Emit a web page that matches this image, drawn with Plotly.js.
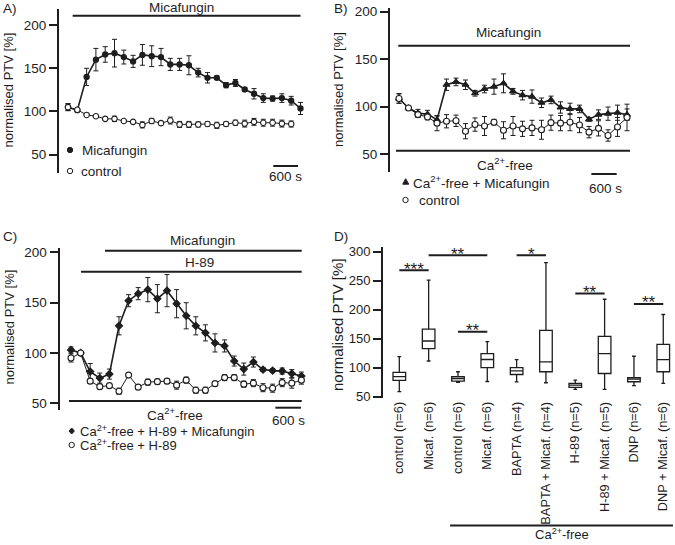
<!DOCTYPE html>
<html><head><meta charset="utf-8">
<script src="https://cdn.plot.ly/plotly-3.0.1.min.js"></script>
<style>html,body{margin:0;padding:0;background:#fff}</style>
</head><body><div id="chart" style="width:675px;height:545px"></div>
<script>
// ---------- DATA ----------
// time points (s)
const timeA = [0,225,450,675,900,1125,1350,1575,1800,2025,2250,2475,2700,2925,3150,3375,3600,3825,4050,4275,4500,4725,4950,5175,5400,5625];
const timeB = [0,225,450,675,900,1125,1350,1575,1800,2025,2250,2475,2700,2925,3150,3375,3600,3825,4050,4275,4500,4725,4950,5175,5400];
const timeC = [0,225,450,675,900,1125,1350,1575,1800,2025,2250,2475,2700,2925,3150,3375,3600,3825,4050,4275,4500,4725,4950,5175,5400];

// Panel A
const micafA    = [105,101.5,140,160,166,167.5,163,158,165.5,164,163,154.5,154.5,153.5,145,139,139,130.5,133,125.5,120.5,115.5,115,115.5,112.5,103.5];
const micafAErr = [4,2,10,13,9,16,8,7,12,12,10,7,7,11,5,6,2,3,4,2,6,5,3,5,5,7];
const controlA    = [105,102,96,94.5,91.5,91.5,89,88,84.5,89,86.5,89.5,85,85,85,85.5,84,85.5,87,86,88,87,87,86,85.5];
const controlAErr = [4,1.5,1.5,1.5,2,3,1.5,1.5,3.5,3,2,4,3.5,3.5,3,2.5,3.5,2.5,3,4,4,4,4,4,3.5];

// Panel B
const caMicafB    = [108.5,98.5,93,92,86,123,126,123,114,118.5,121,124.5,116,112,110.5,104,107,99,97.5,97.5,86.5,91.5,92.5,93.5,91.5];
const caMicafBErr = [5,2,4,4,4,6,4,5,3,4,8,10,3,5,7,5,4,6,6,4,2,5,7,8,6];
const controlB    = [108.5,98.5,91.5,89,82.5,84.5,85,74,81,79.5,83.5,75,79.5,76.5,77.5,75.5,83,82.5,83.5,80.5,73,77,69.5,78.5,88.5];
const controlBErr = [5,2,3,3,8,7,6,8,7,10,3,9,10,8,8,10,8,8,9,8,6,8,6,10,14];

// Panel C
const caH89MicafC    = [103,100,81.5,75,79,127,152,159,163,154,162,149,137,127,120,110,107,92,84,91,83.5,82.5,82,79.5,77];
const caH89MicafCErr = [3,2,8,5,5,9,6,6,12,14,16,14,13,9,8,9,6,5,6,5,2,2,3,4,4];
const caH89C    = [95,100,72,66.5,67.5,62,78,66,71,71.5,72,68,73,63,63,69.5,75.5,75.5,69,70,65.5,65,70.5,70,73];
const caH89CErr = [4,1.5,2,2,1.5,3,1.5,1.5,3,2.5,2.5,4,3,3,3,2,3,3,3,3.5,4,4,4,5,4];

// Panel D (box plot statistics)
const groupsD = ["control (n=6)","Micaf. (n=6)","control (n=6)","Micaf. (n=6)","BAPTA (n=4)","BAPTA + Micaf. (n=4)","H-89 (n=5)","H-89 + Micaf. (n=5)","DNP (n=6)","DNP + Micaf. (n=6)"];
const upperD  = [119,251,93,145,114,281,78.6,218,119.7,191.7];
const q3D     = [92,166.5,84.5,124.3,100,164.3,72.9,154,83,140.3];
const medianD = [84.5,146,81.3,114.1,94.5,110,70,124.3,80.3,114];
const q1D     = [78,133,76.8,100,88.2,93,66,90,75.7,93];
const lowerD  = [58.8,111.5,74.8,76.2,75.6,74,62.6,62.6,68.9,72.9];
// significance brackets
const sigFrom = [0,1,2,4,6,8];
const sigTo   = [1,3,3,5,7,9];
const sigY    = [268,294,162,294,228,210];
const sigText = ["***","**","**","*","**","**"];

// treatment periods (s)
const micafPeriodA = [112,5625];
const micafPeriodB = [-17,5471];
const caFreePeriodB = [-71,5471];
const micafPeriodC = [797,5407];
const h89PeriodC = [234,5407];
const caFreePeriodC = [-47,5407];

// ---------- LAYOUT HELPERS ----------
const W=675,H=545;
const px = p => p/W;
const py = p => 1 - p/H;
const INK = '#1e1e1e';
const FONT = 'Liberation Sans, Arial, Helvetica, sans-serif';

function yax(domTop, domBot, range, anchor, fs){
  return {domain:[py(domBot),py(domTop)], range:range, anchor:anchor, showline:true, linewidth:2, linecolor:INK,
    ticks:'outside', ticklen:8, tickwidth:2, tickcolor:INK, dtick:50, tick0:0, showgrid:false, zeroline:false,
    tickfont:{size:fs||13.5, color:INK}, fixedrange:true};
}
function xhid(domL, domR, range, anchor){
  return {domain:[px(domL),px(domR)], range:range, anchor:anchor, visible:false, showgrid:false, zeroline:false, fixedrange:true};
}
function series(x,y,err,xa,ya,sym,fill,size,lw){
  return {x:x,y:y,xaxis:xa,yaxis:ya,type:'scatter',mode:'lines+markers',showlegend:false,cliponaxis:false,
    line:{color:INK,width:lw},
    marker:{symbol:sym,size:size,color:fill,line:{color:INK,width:1.1}},
    error_y:{type:'data',array:err,visible:true,color:INK,thickness:1,width:2.5}};
}
const traces = [
  series(timeA,micafA,micafAErr,'x','y','circle',INK,5.2,1.6),
  series(timeA.slice(0,controlA.length),controlA,controlAErr,'x','y','circle','white',5.5,1),
  series(timeB,caMicafB,caMicafBErr,'x2','y2','triangle-up',INK,6,1.6),
  series(timeB,controlB,controlBErr,'x2','y2','circle','white',6,1),
  series(timeC,caH89MicafC,caH89MicafCErr,'x3','y3','diamond',INK,5.5,1.6),
  series(timeC,caH89C,caH89CErr,'x3','y3','circle','white',6,1),
  {type:'box', xaxis:'x4', yaxis:'y4', x:groupsD.map((_,i)=>i), q1:q1D, median:medianD, q3:q3D,
   lowerfence:lowerD, upperfence:upperD, width:0.43, whiskerwidth:0.3, boxpoints:false, showlegend:false,
   fillcolor:'white', line:{color:INK,width:1.3}}
];

function hbarData(xref,x0,x1,ypix){
  return {type:'line',xref:xref,yref:'paper',x0:x0,x1:x1,y0:py(ypix),y1:py(ypix),line:{color:INK,width:2}};
}
function scaleBar(xref,end,ypix){ return hbarData(xref,end-600,end,ypix); }
function mk(type,xp,yp,fill,path){
  const s={type:type,xref:'paper',yref:'paper',xsizemode:'pixel',ysizemode:'pixel',xanchor:px(xp),yanchor:py(yp),
    fillcolor:fill,line:{color:INK,width:1}};
  if(path){s.path=path;} else {s.x0=-2.7;s.x1=2.7;s.y0=-2.7;s.y1=2.7;}
  return s;
}
const shapes = [
  hbarData('x',micafPeriodA[0],micafPeriodA[1],15.7),
  scaleBar('x',5565,166),
  hbarData('x2',micafPeriodB[0],micafPeriodB[1],45.7),
  hbarData('x2',caFreePeriodB[0],caFreePeriodB[1],150.7),
  scaleBar('x2',5156,174),
  hbarData('x3',micafPeriodC[0],micafPeriodC[1],250.7),
  hbarData('x3',h89PeriodC[0],h89PeriodC[1],271.7),
  hbarData('x3',caFreePeriodC[0],caFreePeriodC[1],401),
  scaleBar('x3',5390,407.7),
  {type:'line',xref:'x4',yref:'paper',x0:1.73,x1:9.33,y0:py(525.5),y1:py(525.5),line:{color:INK,width:2}},
  // legend markers
  mk('circle',70,150,INK),
  mk('circle',70,171,'white'),
  mk('path',405.7,181.7,INK,'M -3 -2.5 L 3 -2.5 L 0 3 Z'),
  mk('circle',405.5,200,'white'),
  mk('path',71.7,431,INK,'M 0 3 L 2.7 0 L 0 -3 L -2.7 0 Z'),
  mk('circle',71.7,445,'white')
];
sigFrom.forEach((f,i)=>{
  shapes.push({type:'line',xref:'x4',yref:'y4',x0:f,x1:sigTo[i],y0:sigY[i],y1:sigY[i],line:{color:INK,width:2}});
});

function ann(text,x,y,o){
  return Object.assign({text:text,xref:'paper',yref:'paper',x:px(x),y:py(y),xanchor:'center',yanchor:'middle',
    showarrow:false,font:{size:13.5,color:INK,family:FONT}},o||{});
}
const L={xanchor:'left'};
const ytitle='normalised PTV [%]';
const f13={font:{size:13,color:INK,family:FONT}};
const annotations = [
  ann('A)',1,9,L), ann('Micafungin',181,7), ann('600 s',285.5,177),
  ann('Micafungin',80,150,L), ann('control',79,171,L),
  ann(ytitle,8,90.5,Object.assign({textangle:-90},f13)),
  ann('B)',332,9,L), ann('Micafungin',508,33), ann('Ca<sup>2+</sup>-free',505,164), ann('600 s',605,188),
  ann('Ca<sup>2+</sup>-free + Micafungin',411,182,L), ann('control',416.5,200,L),
  ann(ytitle,338,90,Object.assign({textangle:-90},f13)),
  ann('C)',1,237,L), ann('Micafungin',202,240), ann('H-89',199.5,262), ann('Ca<sup>2+</sup>-free',175,413.5), ann('600 s',288.5,420.5),
  ann('Ca<sup>2+</sup>-free + H-89 + Micafungin',78,431,Object.assign({font:{size:13,color:INK,family:FONT}},L)),
  ann('Ca<sup>2+</sup>-free + H-89',78,445,Object.assign({font:{size:13,color:INK,family:FONT}},L)),
  ann(ytitle,8.5,327,Object.assign({textangle:-90},f13)),
  ann('D)',332,237,L),
  ann(ytitle,337,325,{textangle:-90,font:{size:15,color:INK,family:FONT}}),
  ann('Ca<sup>2+</sup>-free',561.7,544,{yanchor:'bottom',font:{size:13,color:INK,family:FONT}})
];
sigFrom.forEach((f,i)=>{
  annotations.push({text:sigText[i],xref:'x4',yref:'y4',x:(f+sigTo[i])/2,y:sigY[i],xanchor:'center',yanchor:'middle',
    yshift:1,showarrow:false,font:{size:17,color:INK,family:FONT}});
});

const layout = {
  width:W,height:H,margin:{l:0,r:0,t:0,b:0},paper_bgcolor:'white',plot_bgcolor:'rgba(0,0,0,0)',
  font:{family:FONT,color:INK,size:13},showlegend:false,
  xaxis:xhid(59,305,[-217.7,5733.9],'y'),
  yaxis:yax(8.5,173,[28.8,219.2],'x'),
  xaxis2:xhid(390,635,[-213.2,5589.5],'y2'),
  yaxis2:yax(8.3,171.7,[31.3,203.6],'x2'),
  xaxis3:xhid(59.5,305,[-269.5,5484.4],'y3'),
  yaxis3:yax(248.3,410,[43.3,204.1],'x3'),
  xaxis4:{domain:[px(383),1],range:[-0.556,9.4],anchor:'y4',showline:false,showgrid:false,zeroline:false,ticks:'',
    tickmode:'array',tickvals:groupsD.map((_,i)=>i),ticktext:groupsD,tickangle:-90,tickfont:{size:12.8,color:INK},fixedrange:true},
  yaxis4:yax(246.7,398.3,[47.2,308.6],'x4',13),
  shapes:shapes, annotations:annotations
};
Plotly.newPlot('chart',traces,layout,{staticPlot:true,displayModeBar:false});
</script></body></html>
